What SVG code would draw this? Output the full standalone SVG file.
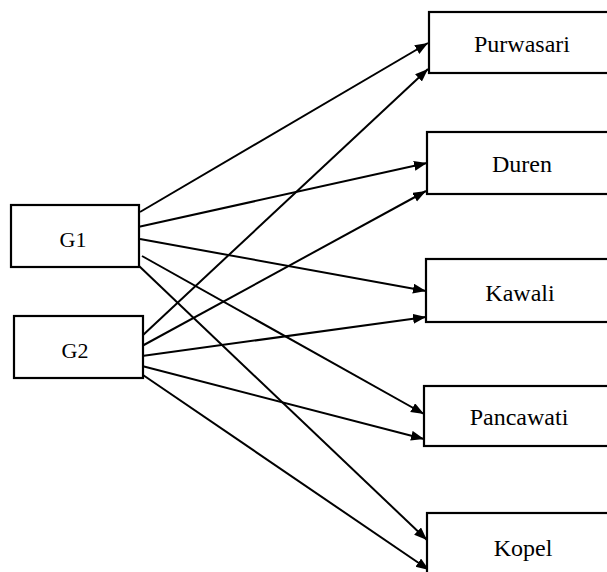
<svg xmlns="http://www.w3.org/2000/svg" width="607" height="572" viewBox="0 0 607 572">
<style>
.box{fill:#fff;stroke:#000;stroke-width:2.2}
text{font-family:'Liberation Serif','Times New Roman',Times,serif;font-size:24px;fill:#000;text-anchor:middle}
text.lg{font-size:22px}
.edge{stroke:#000;stroke-width:2;fill:none;marker-end:url(#ah)}
</style>
<defs>
<marker id="ah" markerUnits="userSpaceOnUse" markerWidth="14" markerHeight="11" refX="13" refY="5" orient="auto">
<path d="M0,0 L13,5 L0,10 z" fill="#000"/>
</marker>
</defs>
<rect width="607" height="572" fill="#fff"/>
<g id="connectors">
<line class="edge" x1="140" y1="212" x2="428" y2="43"/>
<line class="edge" x1="138" y1="227" x2="427" y2="163"/>
<line class="edge" x1="140" y1="239" x2="426" y2="291"/>
<line class="edge" x1="142" y1="256" x2="424" y2="414"/>
<line class="edge" x1="138" y1="265" x2="427" y2="540"/>
<line class="edge" x1="142" y1="336" x2="428" y2="69"/>
<line class="edge" x1="142" y1="346" x2="426" y2="191"/>
<line class="edge" x1="142" y1="356" x2="426" y2="317"/>
<line class="edge" x1="142" y1="366" x2="424" y2="439"/>
<line class="edge" x1="143" y1="375" x2="429" y2="570"/>
</g>
<g id="G1">
<rect class="box" x="11" y="205" width="128" height="62"/>
<text class="lg" x="73" y="247" font-family="Liberation Serif, serif">G1</text>
</g>
<g id="G2">
<rect class="box" x="14" y="316" width="129" height="62"/>
<text class="lg" x="75" y="358" font-family="Liberation Serif, serif">G2</text>
</g>
<g id="Purwasari">
<rect class="box" x="429" y="12" width="190" height="61"/>
<text x="522" y="52" font-family="Liberation Serif, serif">Purwasari</text>
</g>
<g id="Duren">
<rect class="box" x="427" y="132" width="190" height="62"/>
<text x="522" y="172" font-family="Liberation Serif, serif">Duren</text>
</g>
<g id="Kawali">
<rect class="box" x="426" y="259" width="190" height="63"/>
<text x="520" y="301" font-family="Liberation Serif, serif">Kawali</text>
</g>
<g id="Pancawati">
<rect class="box" x="424" y="386" width="190" height="60"/>
<text x="519" y="425" font-family="Liberation Serif, serif">Pancawati</text>
</g>
<g id="Kopel">
<rect class="box" x="427" y="513" width="190" height="66"/>
<text x="523" y="556" font-family="Liberation Serif, serif">Kopel</text>
</g>
</svg>
